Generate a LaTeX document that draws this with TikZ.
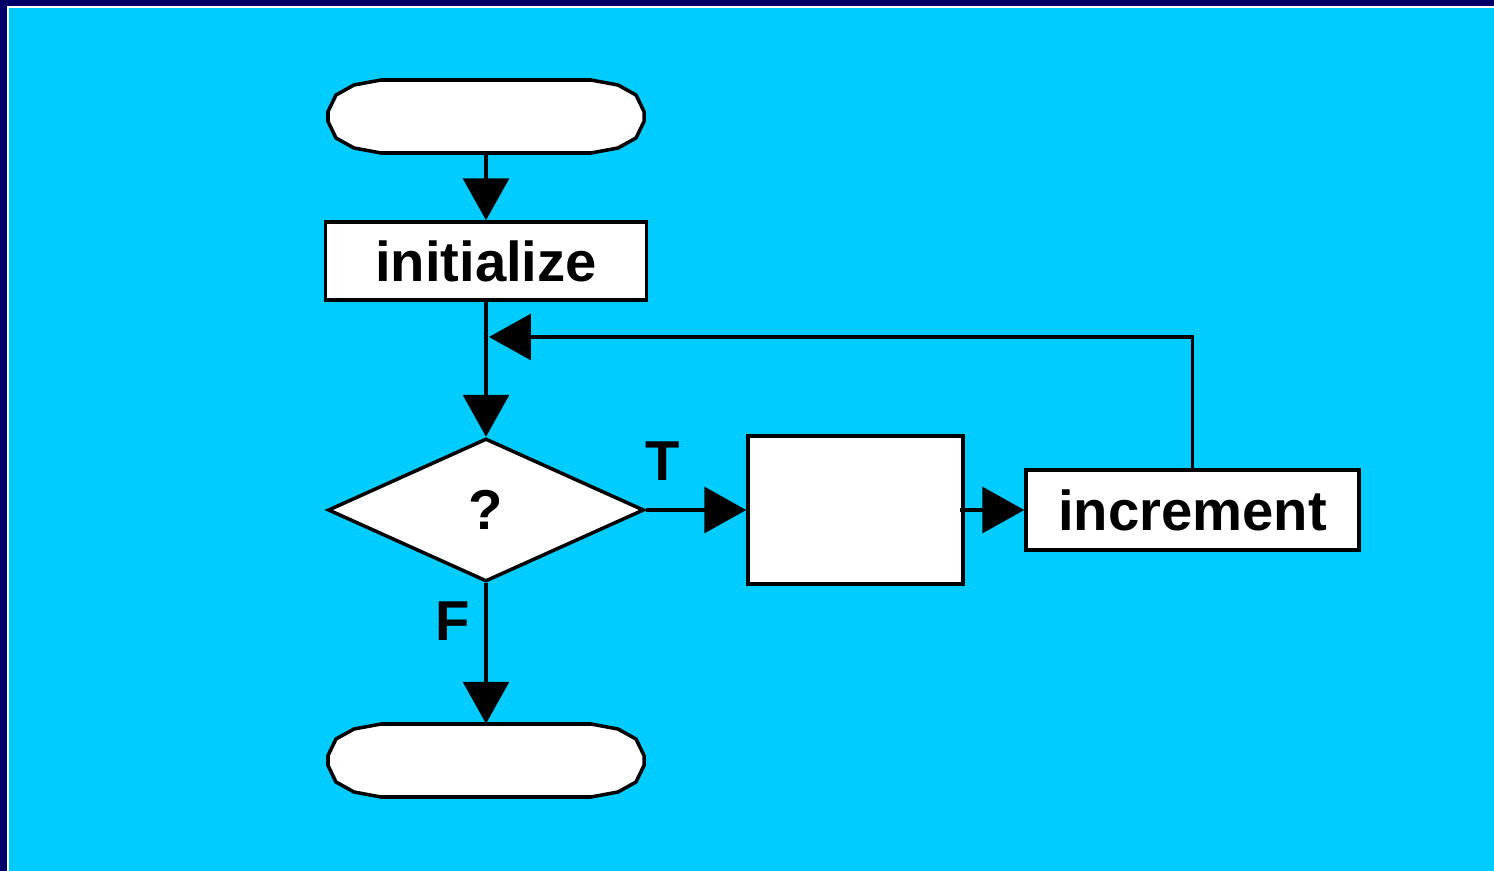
\documentclass[tikz,border=0pt]{standalone}
\usepackage{fontspec}
\setmainfont{Liberation Sans}
\usetikzlibrary{arrows.meta,shapes.geometric}
\newlength\upx \setlength\upx{0.02cm}
\definecolor{navy}{RGB}{0,0,102}
\definecolor{sky}{RGB}{0,204,255}
\tikzset{
 shapeline/.style={draw=black, fill=white, line width=2pt},
 boxnode/.style={shapeline, rectangle, inner sep=0pt, font=\bfseries\fontsize{32}{36}\selectfont},
 lbl/.style={font=\bfseries\fontsize{32}{36}\selectfont, inner sep=0pt},
 conn/.style={line width=1.8pt, -{Triangle[length=23.8pt,width=26.1pt]}},
 termhold/.style={minimum width=316\upx, minimum height=73\upx, inner sep=0pt},
}
\begin{document}
\begin{tikzpicture}[x=0.02cm,y=-0.02cm]
\useasboundingbox (0,0) rectangle (1494,871);
\fill[navy] (0,0) rectangle (1494,871);
\fill[white] (7,6) rectangle (1494,871);
\fill[sky] (9,8) rectangle (1494,871);

% start terminal
\node[termhold] (start) at (486,116.5) {};
\draw[shapeline] (start.center) +(-105,-36.5) -- +(105,-36.5) -- +(132,-31.5) -- +(150,-21.5) -- +(158,-5) -- +(158,5) -- +(150,21.5) -- +(132,31.5) -- +(105,36.5) -- +(-105,36.5) -- +(-132,31.5) -- +(-150,21.5) -- +(-158,5) -- +(-158,-5) -- +(-150,-21.5) -- +(-132,-31.5) -- cycle;

% end terminal
\node[termhold] (stop) at (486,760.5) {};
\draw[shapeline] (stop.center) +(-105,-36.5) -- +(105,-36.5) -- +(132,-31.5) -- +(150,-21.5) -- +(158,-5) -- +(158,5) -- +(150,21.5) -- +(132,31.5) -- +(105,36.5) -- +(-105,36.5) -- +(-132,31.5) -- +(-150,21.5) -- +(-158,5) -- +(-158,-5) -- +(-150,-21.5) -- +(-132,-31.5) -- cycle;

\node[boxnode, minimum width=321\upx, minimum height=78\upx] (init) at (486,261) {initialize};
\node[shapeline, diamond, minimum width=316\upx, minimum height=143\upx, inner sep=0pt,
      font=\bfseries\fontsize{32}{36}\selectfont] (q) at (486,510) {?};
\node[boxnode, minimum width=215\upx, minimum height=148\upx] (body) at (855.5,510) {};
\node[boxnode, minimum width=333\upx, minimum height=80\upx] (inc) at (1192.5,510) {increment};

\node[lbl] (tl) at (663,461) {T};
\node[lbl] (fl) at (453,621) {F};

\coordinate (fb) at (489,337);

\draw[conn] (start.south) -- (init.north);
\draw[conn] ([yshift=3\upx]init.south) -- (q.north);
\draw[conn] (q.south) -- (stop.north);
\draw[conn] (q.east) -- (body.west);
\draw[conn] ([xshift=-5\upx]body.east) -- (inc.west);
\draw[conn] (inc.north) |- (fb);
\end{tikzpicture}
\end{document}
